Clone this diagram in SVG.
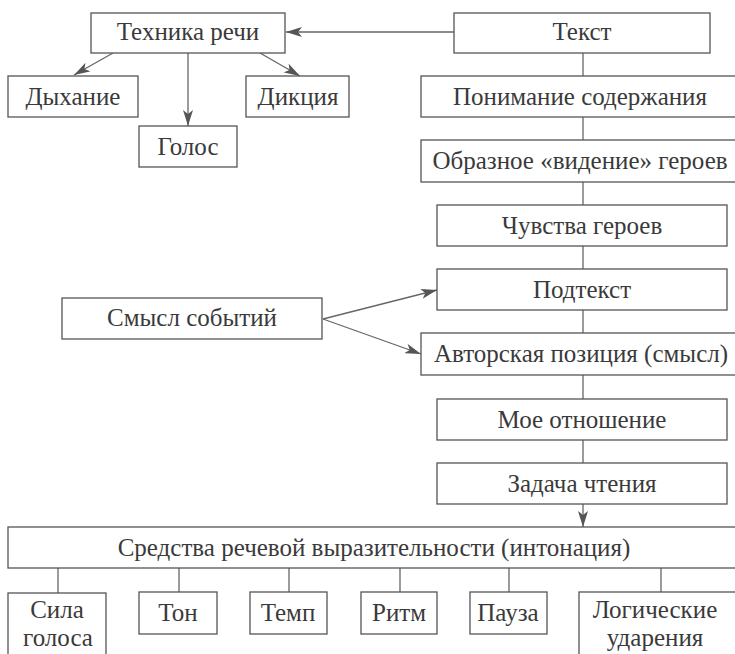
<svg xmlns="http://www.w3.org/2000/svg" width="735" height="654" viewBox="0 0 735 654">
<style>
.box{fill:#fff;stroke:#555;stroke-width:1.3}
.t{font-family:"Liberation Serif","Times New Roman",serif;font-size:25px;fill:#3a3a3a;text-anchor:middle}
.c{stroke:#666;stroke-width:1.3;fill:none}
.a{marker-end:url(#arr)}
</style>
<defs>
<marker id="arr" viewBox="0 0 16 10" refX="16" refY="5" markerWidth="16" markerHeight="10" orient="auto" markerUnits="userSpaceOnUse">
<path d="M0,0 L16,5 L0,10 L4,5 z" fill="#555"/>
</marker>
</defs>
<rect width="735" height="654" fill="#fff"/>
<g id="connectors">
<line class="c a" x1="454" y1="32" x2="286" y2="32"/>
<line class="c a" x1="113" y1="53" x2="74" y2="75"/>
<line class="c a" x1="188" y1="53" x2="188" y2="126"/>
<line class="c a" x1="260" y1="53" x2="300" y2="76"/>
<line class="c a" x1="323" y1="319" x2="437" y2="290"/>
<line class="c a" x1="323" y1="319" x2="421" y2="354"/>
<line class="c" x1="583" y1="53" x2="583" y2="76"/>
<line class="c" x1="583" y1="117" x2="583" y2="140"/>
<line class="c" x1="583" y1="182" x2="583" y2="205"/>
<line class="c" x1="583" y1="246" x2="583" y2="269"/>
<line class="c" x1="583" y1="310" x2="583" y2="333"/>
<line class="c" x1="583" y1="375" x2="583" y2="399"/>
<line class="c" x1="583" y1="440" x2="583" y2="463"/>
<line class="c a" x1="583" y1="504" x2="583" y2="527"/>
<line class="c" x1="58" y1="568" x2="58" y2="593"/>
<line class="c" x1="179" y1="568" x2="179" y2="592"/>
<line class="c" x1="289" y1="568" x2="289" y2="592"/>
<line class="c" x1="400" y1="568" x2="400" y2="592"/>
<line class="c" x1="509" y1="568" x2="509" y2="592"/>
<line class="c" x1="661" y1="568" x2="661" y2="592"/>
</g>
<g id="tehnika"><rect class="box" x="91" y="13" width="194" height="40"/><text class="t" x="188" y="40">Техника речи</text></g>
<g id="tekst"><rect class="box" x="454" y="13" width="256" height="40"/><text class="t" x="582" y="40">Текст</text></g>
<g id="dyhanie"><rect class="box" x="8" y="76" width="130" height="41"/><text class="t" x="73" y="105">Дыхание</text></g>
<g id="dikciya"><rect class="box" x="246" y="76" width="103" height="41"/><text class="t" x="298" y="105">Дикция</text></g>
<g id="golos"><rect class="box" x="139" y="126" width="98" height="41"/><text class="t" x="188" y="155">Голос</text></g>
<g id="ponimanie"><rect class="box" x="421" y="76" width="320" height="41"/><text class="t" x="580" y="105">Понимание содержания</text></g>
<g id="obraznoe"><rect class="box" x="421" y="140" width="320" height="42"/><text class="t" x="580" y="169">Образное «видение» героев</text></g>
<g id="chuvstva"><rect class="box" x="437" y="205" width="290" height="41"/><text class="t" x="582" y="234">Чувства героев</text></g>
<g id="podtekst"><rect class="box" x="437" y="269" width="290" height="41"/><text class="t" x="582" y="298">Подтекст</text></g>
<g id="smysl"><rect class="box" x="62" y="298" width="260" height="41"/><text class="t" x="192" y="326">Смысл событий</text></g>
<g id="avtorskaya"><rect class="box" x="421" y="333" width="320" height="42"/><text class="t" x="581" y="362">Авторская позиция (смысл)</text></g>
<g id="moe"><rect class="box" x="437" y="399" width="290" height="41"/><text class="t" x="582" y="428">Мое отношение</text></g>
<g id="zadacha"><rect class="box" x="437" y="463" width="290" height="41"/><text class="t" x="582" y="492">Задача чтения</text></g>
<g id="sredstva"><rect class="box" x="8" y="527" width="740" height="41"/><text class="t" x="374" y="556">Средства речевой выразительности (интонация)</text></g>
<g id="sila"><rect class="box" x="8" y="593" width="98" height="70"/><text class="t" x="57" y="618">Сила</text><text class="t" x="58" y="646">голоса</text></g>
<g id="ton"><rect class="box" x="139" y="592" width="78" height="42"/><text class="t" x="178" y="621">Тон</text></g>
<g id="temp"><rect class="box" x="250" y="592" width="77" height="42"/><text class="t" x="288" y="621">Темп</text></g>
<g id="ritm"><rect class="box" x="361" y="592" width="76" height="42"/><text class="t" x="399" y="621">Ритм</text></g>
<g id="pauza"><rect class="box" x="470" y="592" width="77" height="42"/><text class="t" x="508" y="621">Пауза</text></g>
<g id="logicheskie"><rect class="box" x="579" y="592" width="170" height="70"/><text class="t" x="655" y="618">Логические</text><text class="t" x="655" y="646">ударения</text></g>
</svg>
